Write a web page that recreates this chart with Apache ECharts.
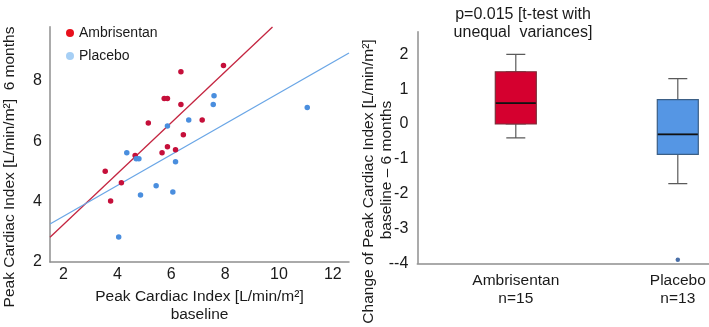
<!DOCTYPE html>
<html><head><meta charset="utf-8">
<script src="https://cdn.jsdelivr.net/npm/echarts@6/dist/echarts.min.js"></script>
<style>html,body{margin:0;padding:0;background:#fff}#c{width:709px;height:327px}</style>
</head><body><div id="c"></div>
<script>
// Left: scatter (baseline vs 6 months)
const ambX = [3.55, 3.75, 4.15, 4.66, 5.15, 5.66, 5.86, 5.74, 5.86, 6.36, 6.36, 6.16, 6.45, 7.15, 7.94];
const ambY = [5.01, 4.02, 4.63, 5.53, 6.61, 5.62, 5.82, 7.42, 7.42, 8.31, 7.22, 5.72, 6.22, 6.71, 8.51];
const plaX = [4.05, 4.35, 4.70, 4.80, 4.86, 5.44, 5.86, 6.06, 6.16, 6.65, 7.56, 7.59, 11.05];
const plaY = [2.83, 5.62, 5.42, 5.42, 4.22, 4.53, 6.51, 4.32, 5.32, 6.71, 7.22, 7.51, 7.12];
// regression line endpoints
const ambFit = [[1.5, 2.82], [9.76, 9.79]];
const plaFit = [[1.5, 3.26], [12.6, 8.93]];
const xTicks = [2, 4, 6, 8, 10, 12];
const yTicks = [2, 4, 6, 8];
// Right: boxplot of change
const groups = ['Ambrisentan', 'Placebo'];
const groupN = ['n=15', 'n=13'];
const boxMin = [-0.40, -1.71];
const boxQ1 = [0.00, -0.87];
const boxMed = [0.60, -0.30];
const boxQ3 = [1.50, 0.70];
const boxMax = [2.00, 1.30];
const outliers = [['Placebo', -3.9]];
const boxYTickLabels = {'-4': '--4', '-3': '-3', '-2': '-2', '-1': '-1', '0': '0', '1': '1', '2': '2'};

const FONT = '"Liberation Sans", Arial, sans-serif';
const TXT = '#1a1a1a';
const AX = '#8f8f8f';

const zip = (a, b) => a.map((v, i) => [v, b[i]]);
const boxColors = ['#d5002f', '#5596e4'];
const boxBorders = ['#7a2f3a', '#3b5f86'];

const chart = echarts.init(document.getElementById('c'), null, {renderer: 'canvas'});
chart.setOption({
  animation: false,
  textStyle: {fontFamily: FONT},
  title: {
    text: 'p=0.015 [t-test with\nunequal  variances]',
    left: 518, top: 1, textAlign: 'center',
    textStyle: {fontFamily: FONT, fontSize: 16, fontWeight: 'normal', color: TXT, lineHeight: 18}
  },
  legend: {
    orient: 'vertical', left: 61, top: 21, itemWidth: 8, itemHeight: 8, itemGap: 9,
    icon: 'circle',
    textStyle: {fontFamily: FONT, fontSize: 14, color: TXT},
    data: [
      {name: 'Ambrisentan', itemStyle: {color: '#e8101c'}},
      {name: 'Placebo', itemStyle: {color: '#a6cff5'}}
    ]
  },
  grid: [
    {left: 50, top: 26.7, right: 360, bottom: 65, outerBoundsMode: 'none', containLabel: false},
    {left: 417.3, top: 31.7, right: 0, bottom: 63.7, outerBoundsMode: 'none', containLabel: false},
    {left: 434.8, top: 31.7, width: 324, bottom: 63.7, outerBoundsMode: 'none', containLabel: false}
  ],
  xAxis: [
    {type: 'value', gridIndex: 0, min: 1.5, max: 12.6,
     axisLine: {show: true, lineStyle: {color: AX, width: 1.5}}, axisTick: {show: false}, splitLine: {show: false},
     axisLabel: {customValues: xTicks, fontSize: 16, color: TXT, margin: 5, fontFamily: FONT},
     name: 'Peak Cardiac Index [L/min/m²]\nbaseline', nameLocation: 'middle', nameGap: 26,
     nameTextStyle: {fontSize: 15.5, color: TXT, lineHeight: 18, fontFamily: FONT}},
    {type: 'value', gridIndex: 1, min: 0, max: 1,
     axisLine: {show: true, onZero: false, lineStyle: {color: AX, width: 1.5}}, axisTick: {show: false},
     splitLine: {show: false}, axisLabel: {show: false}},
    {type: 'category', gridIndex: 2, data: groups, boundaryGap: true,
     axisLine: {show: false}, axisTick: {show: false}, splitLine: {show: false},
     axisLabel: {fontSize: 15.5, color: TXT, lineHeight: 18, margin: 8, fontFamily: FONT,
       formatter: (v) => v + '\n' + groupN[groups.indexOf(v)]}},
    {type: 'category', gridIndex: 2, data: groups, boundaryGap: true, show: false}
  ],
  yAxis: [
    {type: 'value', gridIndex: 0, min: 2, max: 9.8,
     axisLine: {show: true, lineStyle: {color: AX, width: 1.5}}, axisTick: {show: false}, splitLine: {show: false},
     axisLabel: {customValues: yTicks, fontSize: 16, color: TXT, margin: 8, fontFamily: FONT, padding: [5, 0, 0, 0]}},
    {type: 'value', gridIndex: 1, min: -4, max: 2.65, interval: 1,
     axisLine: {show: true, onZero: false, lineStyle: {color: AX, width: 1.5}}, axisTick: {show: false}, splitLine: {show: false},
     axisLabel: {fontSize: 16, color: TXT, margin: 9, fontFamily: FONT, showMaxLabel: false, padding: [4, 0, 0, 0],
       formatter: function (v) {
         const k = String(Math.round(Number(v)));
         if (Math.abs(Number(v) - Math.round(Number(v))) > 1e-6) return '';
         return boxYTickLabels[k] !== undefined ? boxYTickLabels[k] : '';
       }}},
    {type: 'value', gridIndex: 2, min: -4, max: 2.65, show: false}
  ],
  graphic: [
    {type: 'text', x: 10, y: 167, rotation: Math.PI / 2,
     style: {text: 'Peak Cardiac Index [L/min/m²]  6 months', font: '15.5px ' + FONT, fill: TXT,
       align: 'center', verticalAlign: 'middle', textAlign: 'center', textVerticalAlign: 'middle'}},
    {type: 'text', x: 368.3, y: 181.5, rotation: Math.PI / 2,
     style: {text: 'Change of Peak Cardiac Index [L/min/m²]', font: '15.5px ' + FONT, fill: TXT,
       align: 'center', verticalAlign: 'middle', textAlign: 'center', textVerticalAlign: 'middle'}},
    {type: 'text', x: 386.7, y: 170, rotation: Math.PI / 2,
     style: {text: 'baseline – 6 months', font: '15.5px ' + FONT, fill: TXT,
       align: 'center', verticalAlign: 'middle', textAlign: 'center', textVerticalAlign: 'middle'}}
  ],
  series: [
    {type: 'line', name: 'fitA', xAxisIndex: 0, yAxisIndex: 0, data: ambFit, symbol: 'none',
     lineStyle: {color: '#c42540', width: 1.3}, z: 1},
    {type: 'line', name: 'fitP', xAxisIndex: 0, yAxisIndex: 0, data: plaFit, symbol: 'none',
     lineStyle: {color: '#6aa6e6', width: 1.3}, z: 1},
    {type: 'scatter', name: 'Ambrisentan', xAxisIndex: 0, yAxisIndex: 0, data: zip(ambX, ambY),
     symbolSize: 5.5, itemStyle: {color: '#c50f3a', opacity: 1}, z: 3},
    {type: 'scatter', name: 'Placebo', xAxisIndex: 0, yAxisIndex: 0, data: zip(plaX, plaY),
     symbolSize: 5.5, itemStyle: {color: '#4a8ede', opacity: 1}, z: 3},
    // whiskers (narrow caps) on a separate hidden category axis so they overlap the boxes
    {type: 'boxplot', name: 'whisk', xAxisIndex: 3, yAxisIndex: 2, boxWidth: [19, 19],
     data: groups.map((g, i) => [boxMin[i], boxQ1[i], boxMed[i], boxQ3[i], boxMax[i]]),
     itemStyle: {color: 'rgba(0,0,0,0)', borderColor: '#5a5a5a', borderWidth: 1.2}, z: 2},
    // boxes
    {type: 'boxplot', name: 'box', xAxisIndex: 2, yAxisIndex: 2, boxWidth: [41, 41],
     data: groups.map((g, i) => ({value: [boxQ1[i], boxQ1[i], boxMed[i], boxQ3[i], boxQ3[i]],
       itemStyle: {color: boxColors[i], borderColor: boxBorders[i], borderWidth: 1.2}})), z: 3},
    // median lines
    {type: 'scatter', name: 'median', xAxisIndex: 2, yAxisIndex: 2, symbol: 'rect', symbolSize: [40, 1.8],
     data: groups.map((g, i) => [g, boxMed[i]]), itemStyle: {color: '#111', opacity: 1}, z: 4},
    {type: 'scatter', name: 'outlier', xAxisIndex: 2, yAxisIndex: 2, symbolSize: 4.5,
     data: outliers, itemStyle: {color: '#4a6fa8', opacity: 1}, z: 4}
  ]
});
</script></body></html>
